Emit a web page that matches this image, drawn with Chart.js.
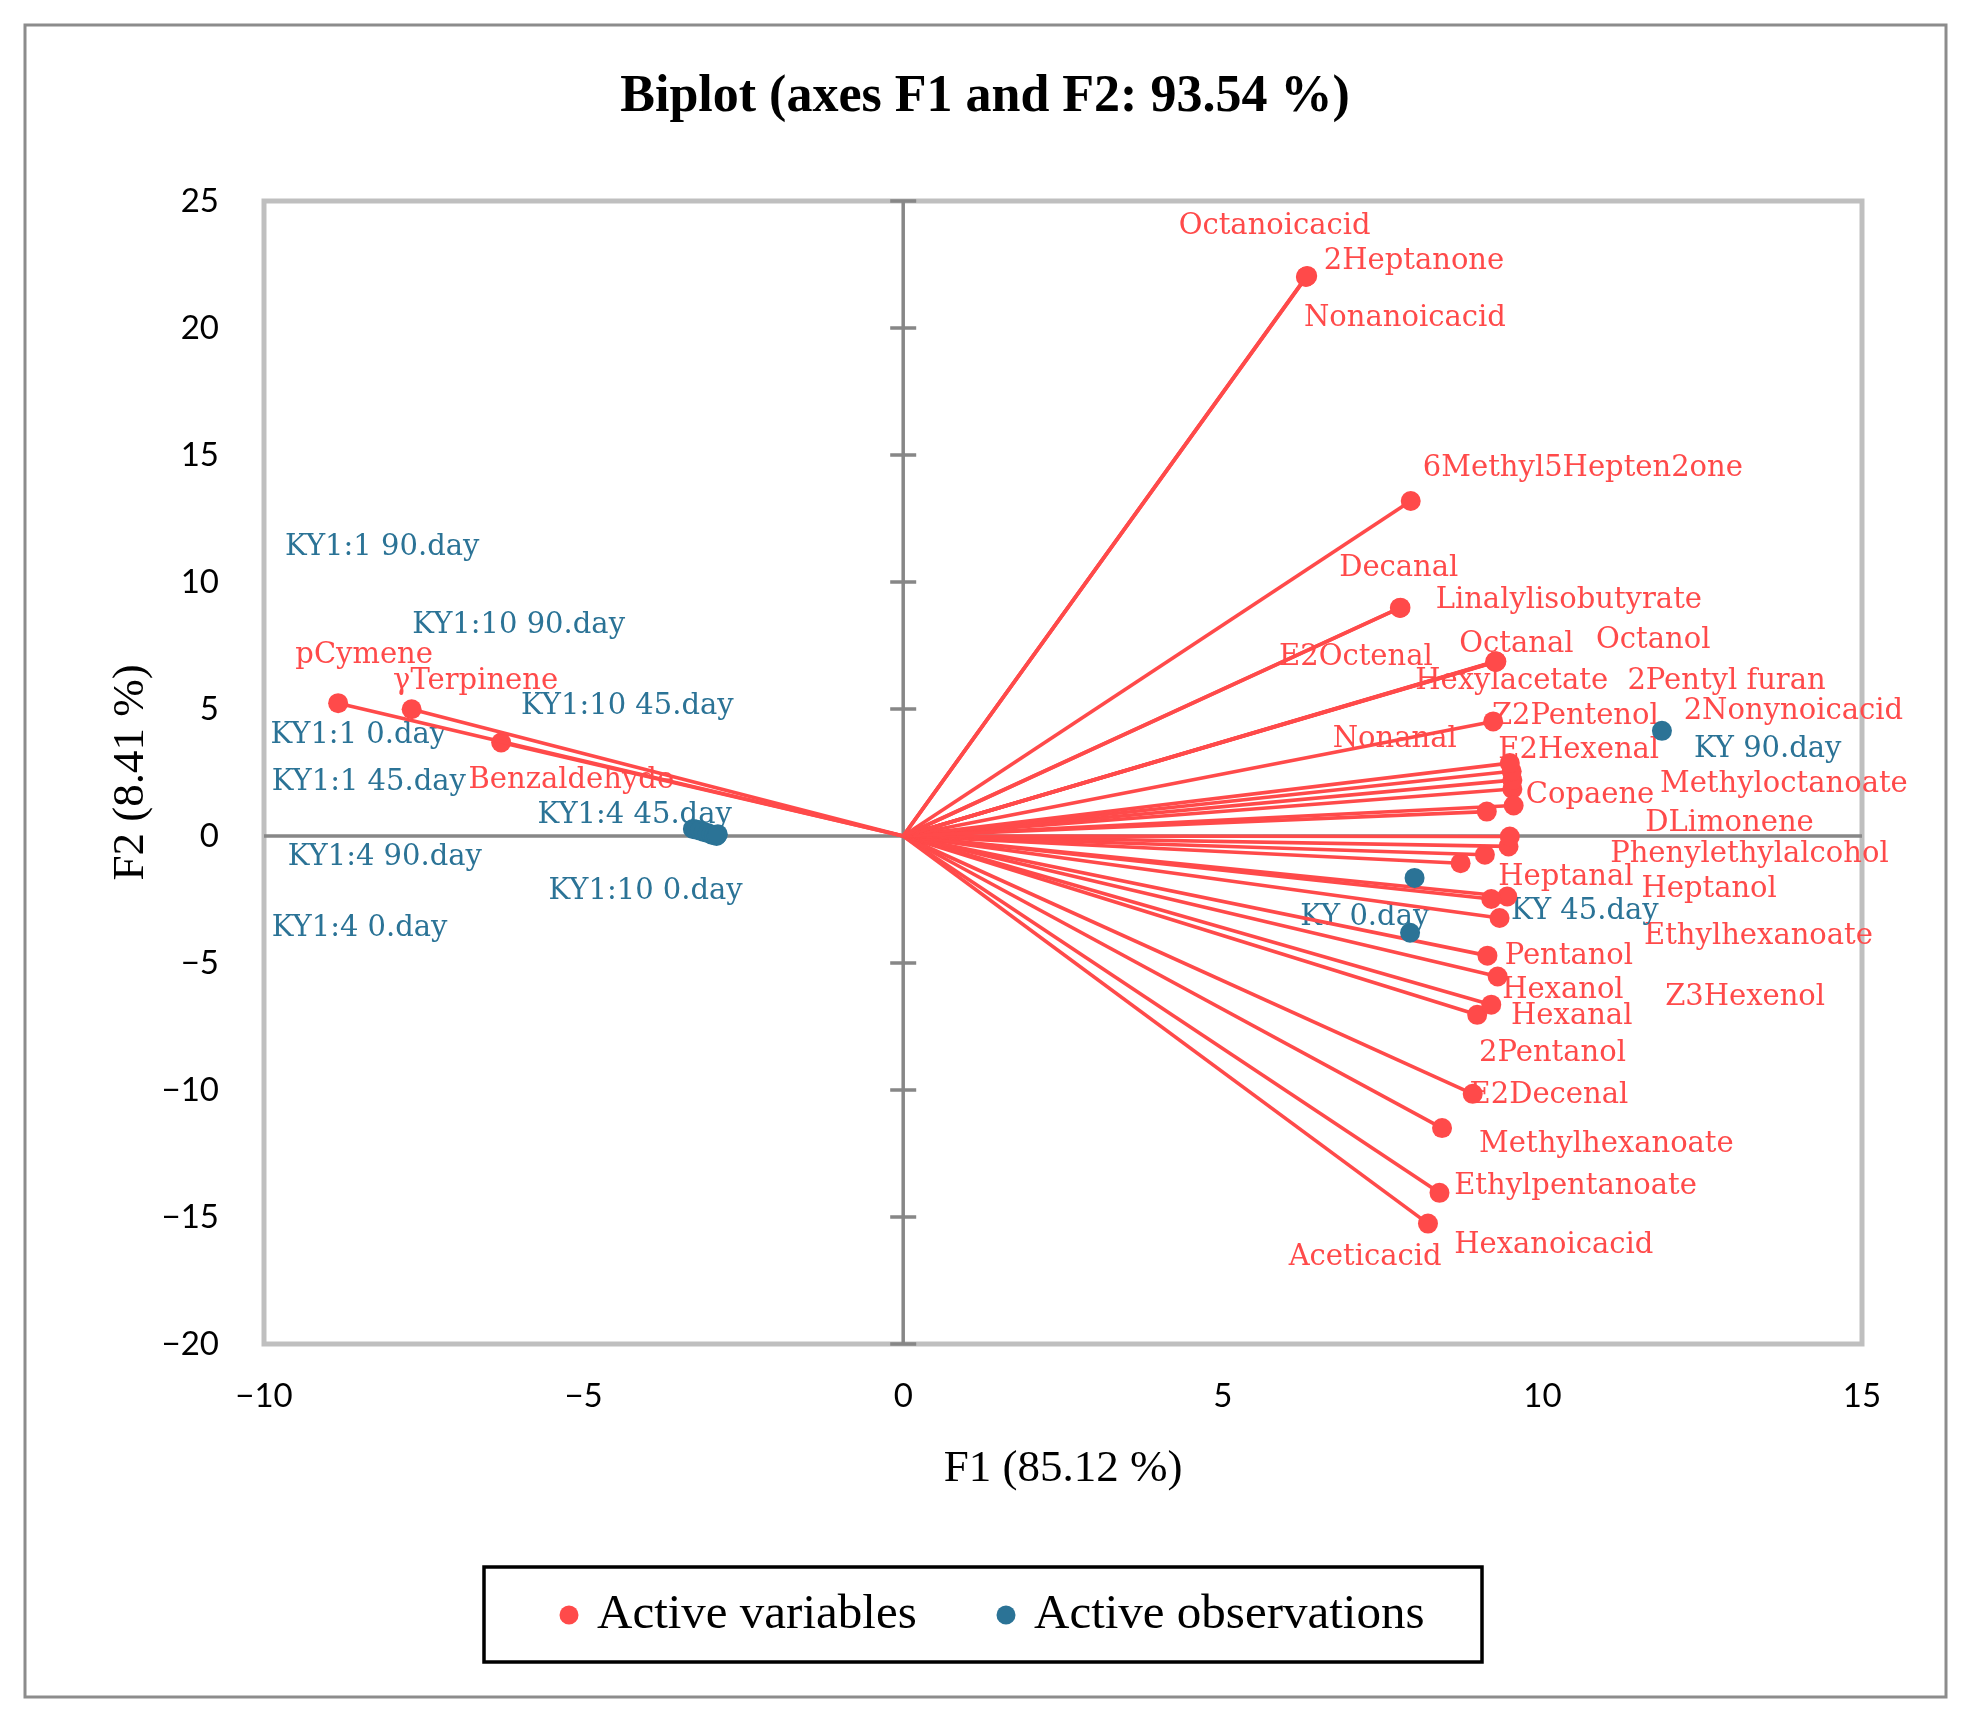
<!DOCTYPE html>
<html>
<head>
<meta charset="utf-8">
<script src="https://cdn.jsdelivr.net/npm/chart.js@4.4.1/dist/chart.umd.min.js"></script>
<style>
  html, body { margin: 0; padding: 0; background: #fff; }
  canvas { display: block; }
</style>
</head>
<body>
<canvas id="biplot" width="1965" height="1717"></canvas>
<script>
// active variables (loadings)
const varNames = ['Octanoicacid', '2Heptanone', 'Nonanoicacid', '6Methyl5Hepten2one', 'Decanal', 'Linalylisobutyrate',
  'E2Octenal', 'Octanal', 'Octanol', 'Hexylacetate', 'Z2Pentenol', '2Pentyl furan', '2Nonynoicacid', 'Nonanal',
  'E2Hexenal', 'Copaene', 'Methyloctanoate', 'DLimonene', 'Phenylethylalcohol', 'Heptanal', 'Z3Hexenol', 'Heptanol',
  'Ethylhexanoate', 'Pentanol', 'Hexanol', 'Hexanal', '2Pentanol', 'E2Decenal', 'Methylhexanoate', 'Ethylpentanoate',
  'Hexanoicacid', 'Aceticacid', 'pCymene', 'γTerpinene', 'Benzaldehyde'];
const varX = [6.31, 6.32, 6.30, 7.94, 7.78, 7.77, 9.27, 9.28, 9.26, 9.27, 9.23, 9.13, 9.55, 9.49,
  9.52, 9.53, 9.53, 9.49, 9.47, 9.10, 8.72, 9.20, 9.45, 9.33, 9.14, 9.30, 9.20, 8.98, 8.91, 8.43,
  8.39, 8.21, -8.84, -7.69, -6.29];
const varY = [22.03, 22.05, 22.01, 13.19, 8.99, 8.98, 6.88, 6.87, 6.86, 6.85, 4.51, 0.96, 1.20, 2.87,
  2.55, 2.20, 1.85, -0.02, -0.41, -0.74, -1.07, -2.48, -2.38, -3.23, -4.71, -5.53, -6.64, -7.04, -10.15, -11.50,
  -14.05, -15.26, 5.23, 4.99, 3.68];
// where each variable's label sits (left edge, vertical middle), in axis units
const varLabelX = [4.31, 6.58, 6.27, 8.13, 6.82, 8.33, 5.88, 8.70, 10.84, 8.01, 9.21, 11.33, 12.21, 6.72,
  9.31, 9.74, 11.84, 11.61, 11.06, 9.31, 11.92, 11.55, 11.59, 9.41, 9.37, 9.51, 9.01, 8.86, 9.01, 8.62,
  8.62, 6.03, -9.51, -7.98, -6.80];
const varLabelY = [24.01, 22.63, 20.36, 14.48, 10.52, 9.29, 7.02, 7.56, 7.71, 6.08, 4.69, 6.08, 4.89, 3.80,
  3.36, 1.58, 2.03, 0.49, -0.74, -1.63, -6.37, -2.12, -3.95, -4.74, -6.08, -7.11, -8.55, -10.23, -12.15, -13.78,
  -16.11, -16.60, 7.11, 6.08, 2.17];

// active observations (scores)
const obsNames = ['KY1:1 0.day', 'KY1:1 45.day', 'KY1:1 90.day', 'KY1:4 0.day', 'KY1:4 45.day', 'KY1:4 90.day',
  'KY1:10 0.day', 'KY1:10 45.day', 'KY1:10 90.day', 'KY 0.day', 'KY 45.day', 'KY 90.day'];
const obsX = [-3.29, -3.24, -3.18, -3.12, -3.06, -3.00, -2.96, -2.92, -2.90, 7.93, 8.00, 11.87];
const obsY = [0.28, 0.26, 0.22, 0.16, 0.12, 0.06, 0.03, 0.00, 0.07, -3.81, -1.65, 4.14];
const obsLabelX = [-9.90, -9.88, -9.67, -9.88, -5.72, -9.63, -5.55, -5.98, -7.68, 6.21, 9.51, 12.37];
const obsLabelY = [3.95, 2.12, 11.36, -3.66, 0.79, -0.84, -2.17, 5.09, 8.30, -3.21, -2.96, 3.41];

const xTicks = [-10, -5, 0, 5, 10, 15];
const yTicks = [-20, -15, -10, -5, 0, 5, 10, 15, 20, 25];

const RED = '#ff4a4a';
const BLUE = '#2b7396';
const LABEL_FONT = '29px "DejaVu Serif"';

const datasets = [{
  label: 'Active observations',
  data: obsX.map((x, i) => ({ x: x, y: obsY[i] })),
  backgroundColor: BLUE,
  borderColor: BLUE,
  pointRadius: 10,
  pointBorderWidth: 0,
  showLine: false
}];
varNames.forEach((name, i) => {
  datasets.push({
    label: name,
    data: [{ x: 0, y: 0 }, { x: varX[i], y: varY[i] }],
    showLine: true,
    borderColor: RED,
    backgroundColor: RED,
    borderWidth: 3.6,
    pointRadius: ctx => ctx.dataIndex === 0 ? 0 : 10,
    pointBorderWidth: 0
  });
});

const decor = {
  id: 'decor',
  beforeDraw(chart) {
    const c = chart.ctx;
    c.save();
    c.fillStyle = '#fff';
    c.fillRect(0, 0, chart.width, chart.height);
    c.strokeStyle = '#8c8c8c';
    c.lineWidth = 3;
    c.strokeRect(25, 25, 1921, 1672);
    c.restore();
  },
  beforeDatasetsDraw(chart) {
    const c = chart.ctx;
    const a = chart.chartArea;
    const xs = chart.scales.x, ys = chart.scales.y;
    c.save();
    c.strokeStyle = '#bfbfbf';
    c.lineWidth = 5;
    c.strokeRect(a.left, a.top, a.right - a.left, a.bottom - a.top);

    const x0 = xs.getPixelForValue(0), y0 = ys.getPixelForValue(0);
    c.strokeStyle = '#878787';
    c.lineWidth = 3.5;
    c.beginPath();
    c.moveTo(x0, a.top); c.lineTo(x0, a.bottom);
    c.moveTo(a.left, y0); c.lineTo(a.right, y0);
    yTicks.forEach(v => {
      if (v === 0) return;
      const py = ys.getPixelForValue(v);
      c.moveTo(x0 - 13, py); c.lineTo(x0 + 13, py);
    });
    c.stroke();

    c.font = LABEL_FONT;
    c.textAlign = 'left';
    c.textBaseline = 'middle';
    c.fillStyle = RED;
    varNames.forEach((n, i) => {
      c.fillText(n, xs.getPixelForValue(varLabelX[i]), ys.getPixelForValue(varLabelY[i]));
    });
    c.fillStyle = BLUE;
    obsNames.forEach((n, i) => {
      c.fillText(n, xs.getPixelForValue(obsLabelX[i]), ys.getPixelForValue(obsLabelY[i]));
    });
    c.restore();
  },
  afterDraw(chart) {
    const c = chart.ctx;
    const a = chart.chartArea;
    c.save();
    c.fillStyle = '#000';
    c.textAlign = 'center';
    c.textBaseline = 'middle';
    c.font = 'bold 52px "Liberation Serif"';
    c.fillText('Biplot (axes F1 and F2: 93.54 %)', 985, 98);
    c.font = '45px "Liberation Serif"';
    c.fillText('F1 (85.12 %)', (a.left + a.right) / 2, 1469);
    c.save();
    c.translate(131, (a.top + a.bottom) / 2);
    c.rotate(-Math.PI / 2);
    c.fillText('F2 (8.41 %)', 0, 0);
    c.restore();

    // legend
    c.strokeStyle = '#000';
    c.lineWidth = 3.5;
    c.strokeRect(484, 1567, 998, 95);
    c.font = '49px "Liberation Serif"';
    c.textAlign = 'left';
    const items = [['Active variables', RED, 569], ['Active observations', BLUE, 1006]];
    items.forEach(([t, col, px]) => {
      c.fillStyle = col;
      c.beginPath();
      c.arc(px, 1615, 9.5, 0, Math.PI * 2);
      c.fill();
      c.fillStyle = '#000';
      c.fillText(t, px + 28, 1615);
    });
    c.restore();
  }
};

new Chart(document.getElementById('biplot'), {
  type: 'scatter',
  data: { datasets: datasets },
  options: {
    responsive: false,
    devicePixelRatio: 1,
    animation: false,
    layout: { padding: { left: 30, right: 103, top: 201, bottom: 293 } },
    plugins: { legend: { display: false }, tooltip: { enabled: false } },
    scales: {
      x: {
        type: 'linear',
        min: -10, max: 15,
        afterBuildTicks: s => { s.ticks = xTicks.map(v => ({ value: v })); },
        afterFit: s => { s.height = 80; },
        grid: { display: false },
        border: { display: false },
        ticks: {
          padding: 25,
          color: '#000',
          font: { family: 'Lato', size: 33 },
          callback: v => String(v).replace('-', '\u2212')
        }
      },
      y: {
        type: 'linear',
        min: -20, max: 25,
        afterBuildTicks: s => { s.ticks = yTicks.map(v => ({ value: v })); },
        afterFit: s => { s.width = 234; },
        grid: { display: false },
        border: { display: false },
        ticks: {
          padding: 37,
          color: '#000',
          font: { family: 'Lato', size: 33 },
          callback: v => String(v).replace('-', '\u2212')
        }
      }
    }
  },
  plugins: [decor]
});
</script>
</body>
</html>
